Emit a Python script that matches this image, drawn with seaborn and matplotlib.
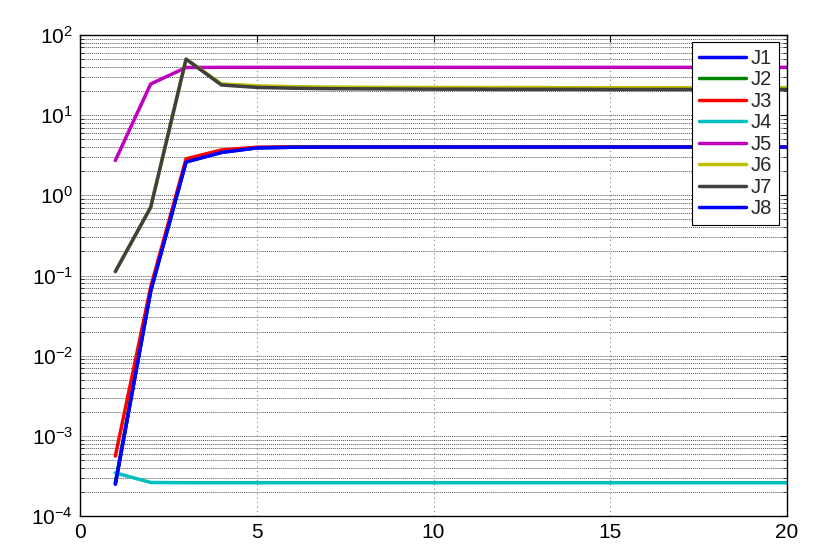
import numpy as np
import pandas as pd
import matplotlib
matplotlib.use("Agg")
import matplotlib.pyplot as plt
import matplotlib.ticker as mticker
import seaborn as sns

x_vals = list(range(1, 21))

J1 = [2.5e-4, 0.064, 2.62, 3.45, 3.92, 3.98, 4.0, 4.0, 4.0, 4.0, 4.0, 4.0, 4.0, 4.0, 4.0, 4.0, 4.0, 4.0, 4.0, 4.0]
J2 = [2.6e-4, 0.066, 2.68, 3.5, 3.94, 3.99, 4.0, 4.0, 4.0, 4.0, 4.0, 4.0, 4.0, 4.0, 4.0, 4.0, 4.0, 4.0, 4.0, 4.0]
J3 = [5.6e-4, 0.072, 2.85, 3.68, 3.98, 4.0, 4.0, 4.0, 4.0, 4.0, 4.0, 4.0, 4.0, 4.0, 4.0, 4.0, 4.0, 4.0, 4.0, 4.0]
J4 = [3.45e-4, 2.62e-4, 2.6e-4, 2.6e-4, 2.6e-4, 2.6e-4, 2.6e-4, 2.6e-4, 2.6e-4, 2.6e-4,
      2.6e-4, 2.6e-4, 2.6e-4, 2.6e-4, 2.6e-4, 2.6e-4, 2.6e-4, 2.6e-4, 2.6e-4, 2.6e-4]
J5 = [2.72, 24.5, 39.3, 39.5, 39.5, 39.5, 39.5, 39.5, 39.5, 39.5, 39.5, 39.5, 39.5, 39.5, 39.5, 39.5, 39.5, 39.5, 39.5, 39.5]
J6 = [0.112, 0.71, 50.0, 24.6, 23.2, 22.7, 22.4, 22.3, 22.2, 22.2, 22.1, 22.1, 22.1, 22.0, 22.0, 22.0, 22.0, 22.0, 22.0, 22.0]
J7 = [0.112, 0.71, 50.0, 23.8, 22.2, 21.7, 21.4, 21.3, 21.2, 21.1, 21.1, 21.0, 21.0, 21.0, 20.9, 20.9, 20.9, 20.9, 20.9, 20.9]
J8 = [2.5e-4, 0.064, 2.6, 3.42, 3.9, 3.98, 4.0, 4.0, 4.0, 4.0, 4.0, 4.0, 4.0, 4.0, 4.0, 4.0, 4.0, 4.0, 4.0, 4.0]

series_names = ["J1", "J2", "J3", "J4", "J5", "J6", "J7", "J8"]
series_values = [J1, J2, J3, J4, J5, J6, J7, J8]
colors = ["#0000FF", "#008000", "#FF0000", "#00BFBF", "#BF00BF", "#BFBF00", "#404040", "#0000FF"]

x_ticks = [0, 5, 10, 15, 20]
y_exponents = [-4, -3, -2, -1, 0, 1, 2]

rows = []
for name, vals in zip(series_names, series_values):
    for xv, yv in zip(x_vals, vals):
        rows.append({"x": xv, "value": yv, "series": name})
df = pd.DataFrame(rows)

sns.set_style("white")
plt.rcParams["font.family"] = ["Liberation Sans", "DejaVu Sans"]
plt.rcParams["mathtext.default"] = "regular"

fig = plt.figure(figsize=(8.31, 5.54), dpi=100)
ax = fig.add_axes([80 / 831, 1 - 516 / 554, 707 / 831, 481 / 554])

sns.lineplot(data=df, x="x", y="value", hue="series", hue_order=series_names,
             palette=dict(zip(series_names, colors)), linewidth=2.5,
             ax=ax, legend=False, estimator=None, sort=False)

ax.set_yscale("log")
ax.set_xlim(0, 20)
ax.set_ylim(1e-4, 1e2)
ax.set_xticks(x_ticks)
ax.set_xticklabels([str(t) for t in x_ticks])
ax.set_yticks([10.0 ** e for e in y_exponents])
ax.set_yticklabels([r"$10^{%d}$" % e for e in y_exponents])
ax.yaxis.set_minor_locator(mticker.LogLocator(base=10, subs=np.arange(2, 10), numticks=100))
ax.yaxis.set_minor_formatter(mticker.NullFormatter())
ax.set_xlabel("")
ax.set_ylabel("")

ax.grid(True, axis="y", which="both", color="#555555", linestyle=(0, (1, 1)), linewidth=0.7)
ax.grid(True, axis="x", which="major", color="#888888", linestyle=(0, (1, 3)), linewidth=0.8)
ax.set_axisbelow(True)

ax.tick_params(axis="both", which="major", direction="in", length=5, width=0.8,
               top=True, right=True, labelsize=15, colors="black", pad=5)
ax.tick_params(axis="y", which="minor", direction="in", length=3, width=0.6,
               left=True, right=True)
for sp in ax.spines.values():
    sp.set_color("black")
    sp.set_linewidth(1.0)
    sp.set_visible(True)

handles = [plt.Line2D([0], [0], color=c, linewidth=2.5) for c in colors]
leg = ax.legend(handles, series_names, loc="upper right",
                bbox_to_anchor=((779 - 80) / 707, (516 - 42) / 481),
                borderaxespad=0, fontsize=14.5, frameon=True, fancybox=False,
                framealpha=1, edgecolor="black", handlelength=2.3,
                handletextpad=0.25, labelspacing=0.12, borderpad=0.35)
leg.get_frame().set_linewidth(0.8)

fig.savefig("out.png", dpi=100, facecolor="white")
